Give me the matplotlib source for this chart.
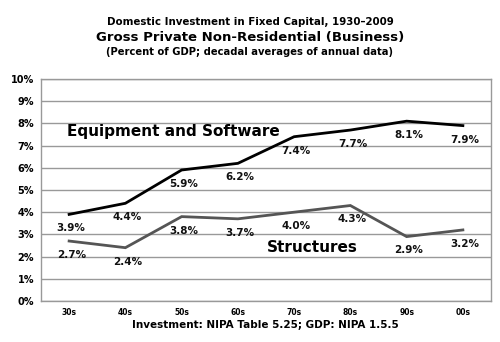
import matplotlib.pyplot as plt
import numpy as np

# Decadal averages, percent of GDP
decades = ['30s', '40s', '50s', '60s', '70s', '80s', '90s', '00s']
equipment = [3.9, 4.4, 5.9, 6.2, 7.4, 7.7, 8.1, 7.9]
structures = [2.7, 2.4, 3.8, 3.7, 4.0, 4.3, 2.9, 3.2]

plt.rcParams['font.family'] = 'DejaVu Sans'
plt.rcParams['font.weight'] = 'bold'

fig = plt.figure(figsize=(5, 3.42), dpi=100)
ax = fig.add_axes([0.082, 0.12, 0.9, 0.649])

x = np.arange(len(decades))
ax.plot(x, equipment, color='black', lw=2.0, solid_joinstyle='miter', zorder=3)
ax.plot(x, structures, color='#555555', lw=2.0, solid_joinstyle='miter', zorder=3)

# value labels below each point
for xi, v in zip(x, equipment):
    ax.annotate(f'{v:.1f}%', (xi, v), xytext=(1.5, -10), textcoords='offset points',
                ha='center', va='center', fontsize=7.5, fontweight='bold', color='#111111')
for xi, v in zip(x, structures):
    ax.annotate(f'{v:.1f}%', (xi, v), xytext=(1.5, -10), textcoords='offset points',
                ha='center', va='center', fontsize=7.5, fontweight='bold', color='#111111')

ax.text(-0.03, 7.65, 'Equipment and Software', fontsize=11, fontweight='bold', va='center', ha='left')
ax.text(4.33, 2.4, 'Structures', fontsize=11, fontweight='bold', va='center', ha='center')

ax.set_xlim(-0.5, len(decades) - 0.5)
ax.set_ylim(0, 10)
ax.set_yticks(np.arange(0, 11, 1))
ax.set_yticklabels([f'{i}%' for i in range(11)], fontsize=7, fontweight='bold')
ax.set_xticks(x)
ax.set_xticklabels(decades, fontsize=5.5, fontweight='bold')
ax.tick_params(length=0, pad=5, axis='x')
ax.tick_params(length=0, pad=5, axis='y')
ax.yaxis.grid(True, color='#999999', lw=1)
ax.set_axisbelow(True)
for s in ax.spines.values():
    s.set_color('#999999')
    s.set_linewidth(1)

fig.text(0.5, 1 - 22 / 342, 'Domestic Investment in Fixed Capital, 1930\u20132009',
         ha='center', va='center', fontsize=7.4, fontweight='bold')
fig.text(0.5, 1 - 37 / 342, 'Gross Private Non-Residential (Business)',
         ha='center', va='center', fontsize=9.5, fontweight='bold')
fig.text(0.5, 1 - 52 / 342, '(Percent of GDP; decadal averages of annual data)',
         ha='center', va='center', fontsize=7.2, fontweight='bold')
fig.text(0.53, 1 - 325 / 342, 'Investment: NIPA Table 5.25; GDP: NIPA 1.5.5',
         ha='center', va='center', fontsize=7.5, fontweight='bold')

fig.savefig('out.png', dpi=100)
